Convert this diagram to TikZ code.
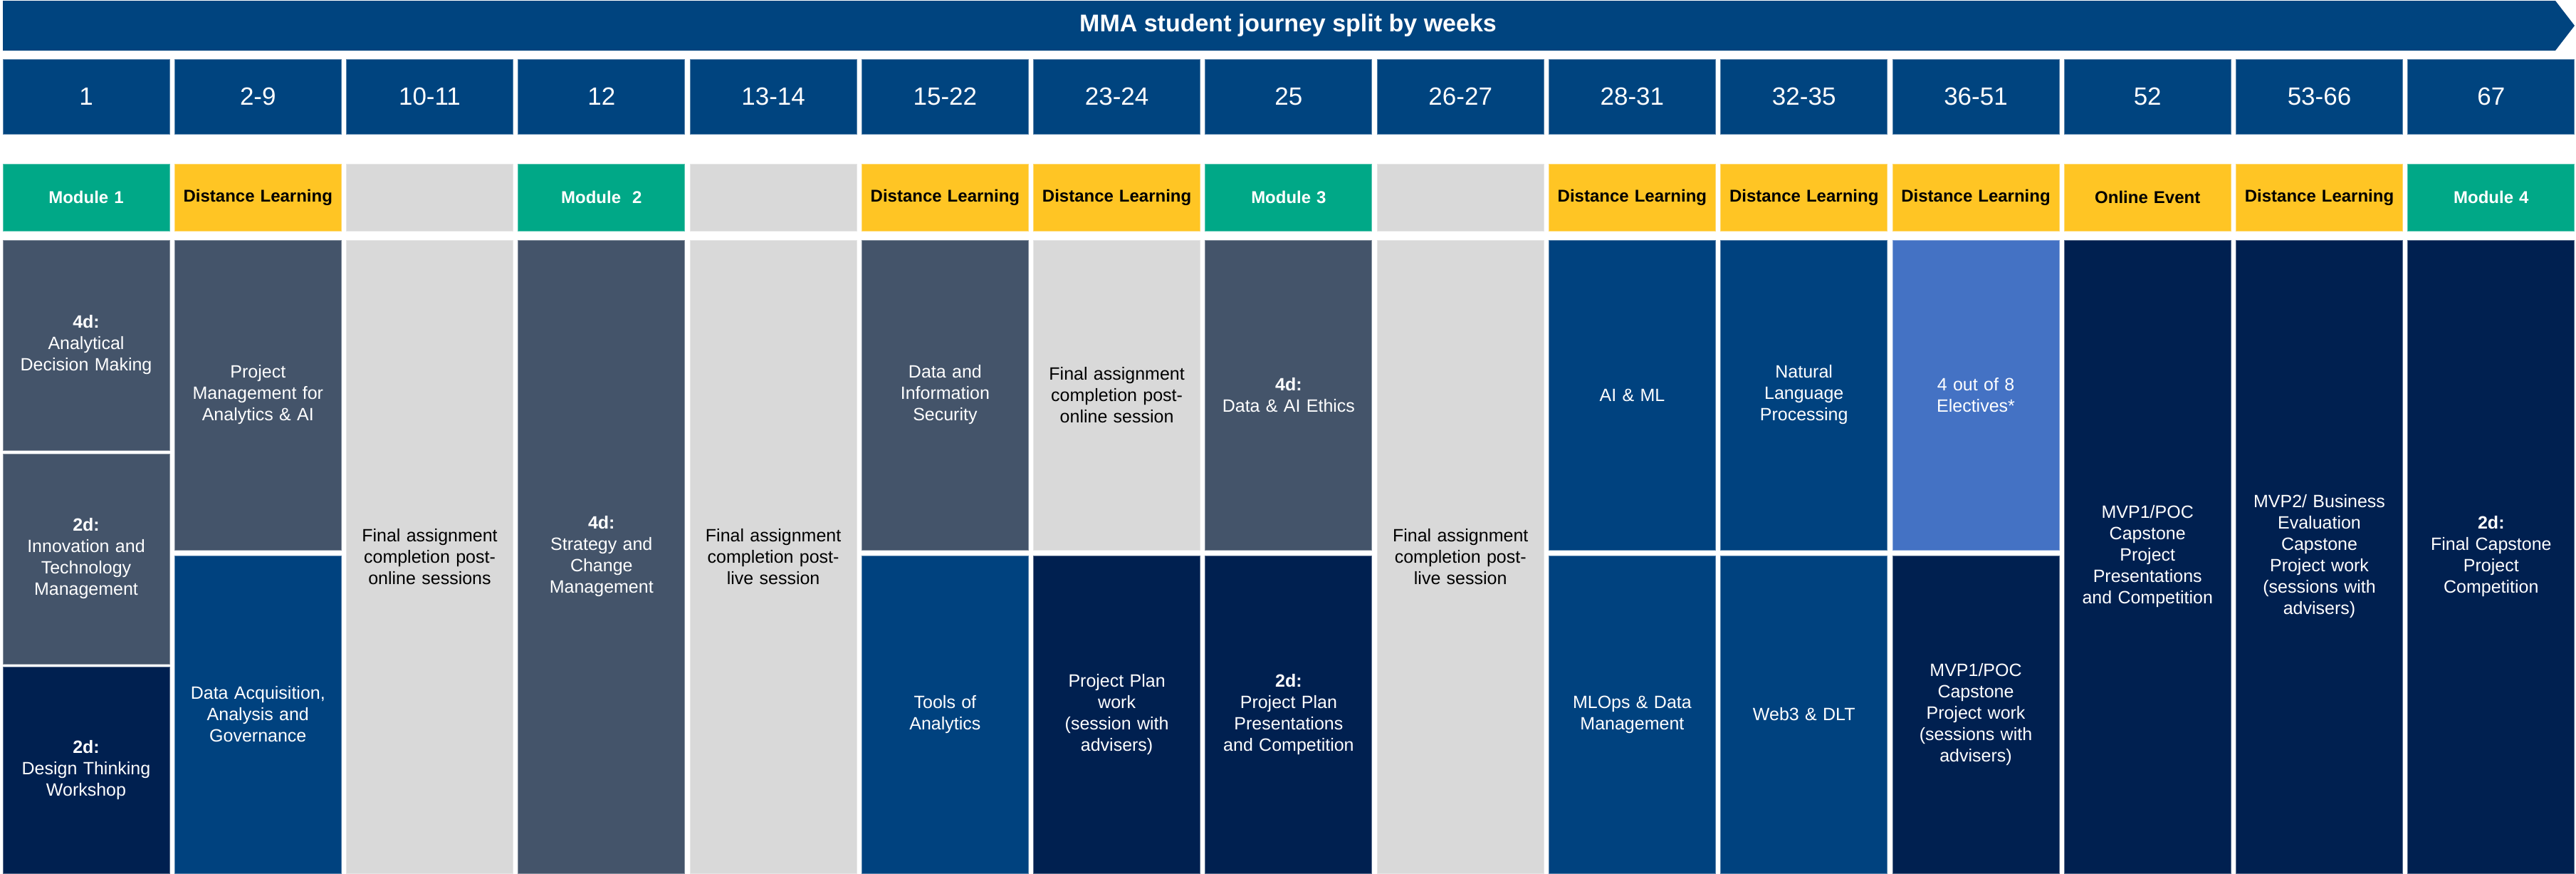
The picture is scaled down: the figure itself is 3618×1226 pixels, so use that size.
\documentclass[tikz,border=0pt]{standalone}
\usepackage{fontspec}
\setmainfont{Liberation Sans}
\definecolor{hdrblue}{HTML}{00447F}
\definecolor{modgreen}{HTML}{00A887}
\definecolor{dlyellow}{HTML}{FFC524}
\definecolor{lgray}{HTML}{D9D9D9}
\definecolor{slate}{HTML}{44546A}
\definecolor{navy}{HTML}{002050}
\definecolor{midblue}{HTML}{00427F}
\definecolor{elecblue}{HTML}{4472C4}
\tikzset{
  base/.style={anchor=north west, inner sep=0pt, outer sep=0pt, minimum width=117pt, text width=112pt, align=center},
  filled/.style={fill=#1, draw=#1!65!white, line width=0.5pt},
  hdr/.style={base, filled=hdrblue, minimum height=52.5pt, text=white, font=\fontsize{17.5}{21}\selectfont},
  cat/.style={base, minimum height=47pt, font=\bfseries\fontsize{12}{14}\selectfont},
  modcat/.style={cat, filled=modgreen, text=white},
  dlcat/.style={cat, filled=dlyellow, text=black},
  emptycat/.style={cat, filled=lgray},
  box/.style={base, font=\fontsize{12.5}{15}\selectfont, text=white},
  slatebox/.style={box, filled=slate},
  navybox/.style={box, filled=navy},
  bluebox/.style={box, filled=midblue},
  elecbox/.style={box, filled=elecblue},
  graybox/.style={box, filled=lgray, text=black},
  hfull/.style={minimum height=444.5pt},
  htop/.style={minimum height=217.5pt},
  hbot/.style={minimum height=223pt},
  hthird/.style={minimum height=147.5pt},
  hthirdb/.style={minimum height=145pt},
}
\begin{document}
\begin{tikzpicture}[x=0.5pt,y=-0.5pt]
\useasboundingbox (0,0) rectangle (3618,1226);
\fill[white] (0,0) rectangle (3618,1226);
% banner
\fill[hdrblue] (4,1) -- (3589,1) -- (3616,36) -- (3589,71) -- (4,71) -- cycle;
\node[text=white, font=\bfseries\fontsize{17}{20}\selectfont] (title) at (1809,36) {MMA student journey split by weeks};
% week headers
\node[hdr] (h1) at (4,83) {1};
\node[hdr] (h2) at (245.3,83) {2-9};
\node[hdr] (h3) at (486.5,83) {10-11};
\node[hdr] (h4) at (727.8,83) {12};
\node[hdr] (h5) at (969.1,83) {13-14};
\node[hdr] (h6) at (1210.4,83) {15-22};
\node[hdr] (h7) at (1451.6,83) {23-24};
\node[hdr] (h8) at (1692.9,83) {25};
\node[hdr] (h9) at (1934.2,83) {26-27};
\node[hdr] (h10) at (2175.4,83) {28-31};
\node[hdr] (h11) at (2416.7,83) {32-35};
\node[hdr] (h12) at (2658.0,83) {36-51};
\node[hdr] (h13) at (2899.2,83) {52};
\node[hdr] (h14) at (3140.5,83) {53-66};
\node[hdr] (h15) at (3381.8,83) {67};
% categories
\node[modcat] (c1) at (4,230) {Module 1};
\node[dlcat] (c2) at (245.3,230) {Distance Learning};
\node[emptycat] (c3) at (486.5,230) {};
\node[modcat] (c4) at (727.8,230) {Module \ 2};
\node[emptycat] (c5) at (969.1,230) {};
\node[dlcat] (c6) at (1210.4,230) {Distance Learning};
\node[dlcat] (c7) at (1451.6,230) {Distance Learning};
\node[modcat] (c8) at (1692.9,230) {Module 3};
\node[emptycat] (c9) at (1934.2,230) {};
\node[dlcat] (c10) at (2175.4,230) {Distance Learning};
\node[dlcat] (c11) at (2416.7,230) {Distance Learning};
\node[dlcat] (c12) at (2658.0,230) {Distance Learning};
\node[dlcat] (c13) at (2899.2,230) {Online Event};
\node[dlcat] (c14) at (3140.5,230) {Distance Learning};
\node[modcat] (c15) at (3381.8,230) {Module 4};
% content column 1
\node[slatebox, hthird] (b1a) at (4,337) {{\bfseries 4d:}\\Analytical\\Decision Making};
\node[slatebox, hthird] (b1b) at (4,637) {{\bfseries 2d:}\\Innovation and\\Technology\\Management};
\node[navybox, hthirdb] (b1c) at (4,936) {{\bfseries 2d:}\\Design Thinking\\Workshop};
% column 2
\node[slatebox, htop] (b2a) at (245.3,337) {Project\\Management for\\Analytics \& AI};
\node[bluebox, hbot] (b2b) at (245.3,780) {Data Acquisition,\\Analysis and\\Governance};
% column 3
\node[graybox, hfull] (b3) at (486.5,337) {Final assignment\\completion post-\\online sessions};
% column 4
\node[slatebox, hfull] (b4) at (727.8,337) {{\bfseries 4d:}\\Strategy and\\Change\\Management};
% column 5
\node[graybox, hfull] (b5) at (969.1,337) {Final assignment\\completion post-\\live session};
% column 6
\node[slatebox, htop] (b6a) at (1210.4,337) {Data and\\Information\\Security};
\node[bluebox, hbot] (b6b) at (1210.4,780) {Tools of\\Analytics};
% column 7
\node[graybox, htop] (b7a) at (1451.6,337) {Final assignment\\completion post-\\online session};
\node[navybox, hbot] (b7b) at (1451.6,780) {Project Plan\\work\\(session with\\advisers)};
% column 8
\node[slatebox, htop] (b8a) at (1692.9,337) {{\bfseries 4d:}\\Data \& AI Ethics};
\node[navybox, hbot] (b8b) at (1692.9,780) {{\bfseries 2d:}\\Project Plan\\Presentations\\and Competition};
% column 9
\node[graybox, hfull] (b9) at (1934.2,337) {Final assignment\\completion post-\\live session};
% column 10
\node[bluebox, htop] (b10a) at (2175.4,337) {AI \& ML};
\node[bluebox, hbot] (b10b) at (2175.4,780) {MLOps \& Data\\Management};
% column 11
\node[bluebox, htop] (b11a) at (2416.7,337) {Natural\\Language\\Processing};
\node[bluebox, hbot] (b11b) at (2416.7,780) {Web3 \& DLT};
% column 12
\node[elecbox, htop] (b12a) at (2658.0,337) {4 out of 8\\Electives*};
\node[navybox, hbot] (b12b) at (2658.0,780) {MVP1/POC\\Capstone\\Project work\\(sessions with\\advisers)};
% column 13
\node[navybox, hfull] (b13) at (2899.2,337) {MVP1/POC\\Capstone\\Project\\Presentations\\and Competition};
% column 14
\node[navybox, hfull] (b14) at (3140.5,337) {MVP2/ Business\\Evaluation\\Capstone\\Project work\\(sessions with\\advisers)};
% column 15
\node[navybox, hfull] (b15) at (3381.8,337) {{\bfseries 2d:}\\Final Capstone\\Project\\Competition};
\end{tikzpicture}
\end{document}
